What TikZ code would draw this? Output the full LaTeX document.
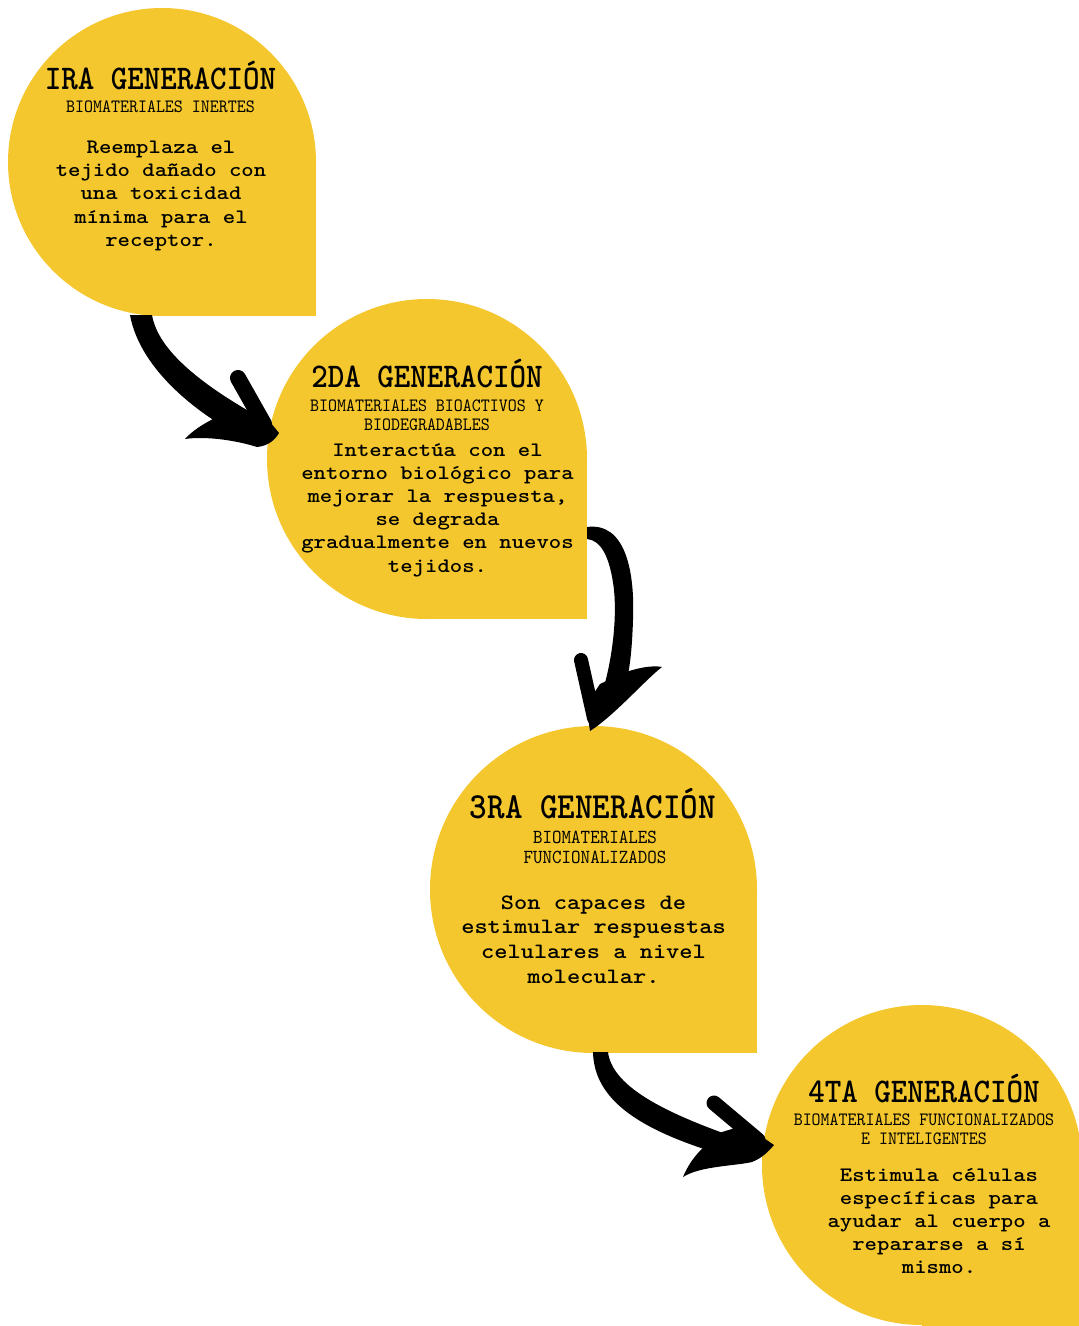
\documentclass[tikz,border=0pt]{standalone}
\usepackage{fontspec}
\newfontfamily\titlefont{lmmonolt10-bold.otf}[FakeStretch=0.91]
\newfontfamily\subfont{lmmono10-regular.otf}[FakeStretch=0.91]
\newfontfamily\bodyfont{lmmonolt10-bold.otf}[FakeStretch=1.15]
\definecolor{gold}{RGB}{244,199,46}
\newcommand\mylines[1]{\begin{tabular}[t]{@{}c@{}}#1\end{tabular}}
\begin{document}
\begin{tikzpicture}[x=1pt,y=-1pt,
  blob/.style={fill=gold},
  ttl/.style={anchor=base,inner sep=0pt,font=\titlefont\fontsize{34.6}{38}\selectfont},
  sub/.style={anchor=base,inner sep=0pt,font=\subfont\fontsize{18.8}{19.2}\selectfont},
  body/.style={anchor=base,inner sep=0pt,font=\bodyfont\fontsize{20.5}{23.2}\selectfont},
  arm/.style={draw=black,line width=15pt,line cap=round},
  ink/.style={fill=black}]
\useasboundingbox (0,0) rectangle (1079,1326);
% shapes
\fill[blob] (162,162) circle[radius=154pt];
\fill[blob] (162,162) rectangle (316,316);
\fill[blob] (427,459) circle[radius=160pt];
\fill[blob] (427,459) rectangle (587,619);
\fill[blob] (593.5,889.5) circle[radius=163.5pt];
\fill[blob] (593.5,889.5) rectangle (757,1053);
\fill[blob] (922,1165) circle[radius=160pt];
\fill[blob] (922,1165) rectangle (1082,1330);
% texts 1
\node[ttl] (t1) at (160.5,89) {IRA GENERACIÓN};
\node[sub] (s1) at (160.5,112) {BIOMATERIALES INERTES};
\node[body] (b1) at (161,153.5) {\mylines{Reemplaza el\\tejido dañado con\\una toxicidad\\mínima para el\\receptor.}};
% texts 2
\node[ttl] (t2) at (427,387) {2DA GENERACIÓN};
\node[sub] (s2) at (427,411) {\mylines{BIOMATERIALES BIOACTIVOS Y\\BIODEGRADABLES}};
\node[body] (b2) at (437.5,456) {\mylines{Interactúa con el\\entorno biológico para\\mejorar la respuesta,\\se degrada\\gradualmente en nuevos\\tejidos.}};
% texts 3
\node[ttl,font=\titlefont\fontsize{36.8}{40}\selectfont] (t3) at (593,818) {3RA GENERACIÓN};
\node[sub,font=\subfont\fontsize{19.9}{20}\selectfont] (s3) at (595,843) {\mylines{BIOMATERIALES\\FUNCIONALIZADOS}};
\node[body,font=\bodyfont\fontsize{21.9}{24.7}\selectfont] (b3) at (593.5,909) {\mylines{Son capaces de\\estimular respuestas\\celulares a nivel\\molecular.}};
% texts 4
\node[ttl] (t4) at (924,1102) {4TA GENERACIÓN};
\node[sub] (s4) at (924,1125) {\mylines{BIOMATERIALES FUNCIONALIZADOS\\E INTELIGENTES}};
\node[body] (b4) at (939,1181) {\mylines{Estimula células\\específicas para\\ayudar al cuerpo a\\repararse a sí\\mismo.}};
% arrow 1
\coordinate (a1s) at (141,315);
\coordinate (a1e) at (279,433);
\fill[ink] ([xshift=-11pt]a1s) -- ([xshift=11pt]a1s) .. controls (158,350) and (200,385) .. (270,423) -- (258,445) .. controls (200,418) and (140,370) .. ([xshift=-11pt]a1s) -- cycle;
\draw[arm,line width=16pt] (238,378) -- (264,424);
\fill[ink] (215,418) .. controls (205,423) and (193,430) .. (185,439) .. controls (205,436) and (235,440) .. (257,447) .. controls (268,446) and (275,440) .. (a1e) -- (262,412) -- cycle;
% arrow 2
\coordinate (a2s) at (587,527);
\coordinate (a2e) at (590,731);
\fill[ink] (a2s) .. controls (625,522) and (635,570) .. (633,620) .. controls (632,650) and (630,665) .. (627,680) -- (603,690) .. controls (612,660) and (617,620) .. (614,590) .. controls (610,555) and (600,540) .. (587,539) -- cycle;
\draw[arm,line width=14pt] (581,660) -- (594,718);
\fill[ink] (600,684) -- (626,672) .. controls (638,668) and (652,665) .. (662,667) .. controls (645,680) and (615,715) .. (a2e) -- (586,705) -- cycle;
% arrow 3
\coordinate (a3s) at (600,1052);
\coordinate (a3e) at (774,1145);
\fill[ink] ([xshift=-7pt]a3s) -- ([xshift=8pt]a3s) .. controls (612,1085) and (660,1110) .. (723,1133) -- (707,1150) .. controls (640,1128) and (594,1100) .. ([xshift=-7pt]a3s) -- cycle;
\draw[arm] (714,1103) -- (758,1140);
\fill[ink] (705,1146) .. controls (695,1155) and (688,1165) .. (683,1177) .. controls (700,1166) and (735,1166) .. (752,1162) .. controls (762,1158) and (768,1152) .. (a3e) -- (745,1125) -- (722,1132) -- cycle;
\end{tikzpicture}
\end{document}
